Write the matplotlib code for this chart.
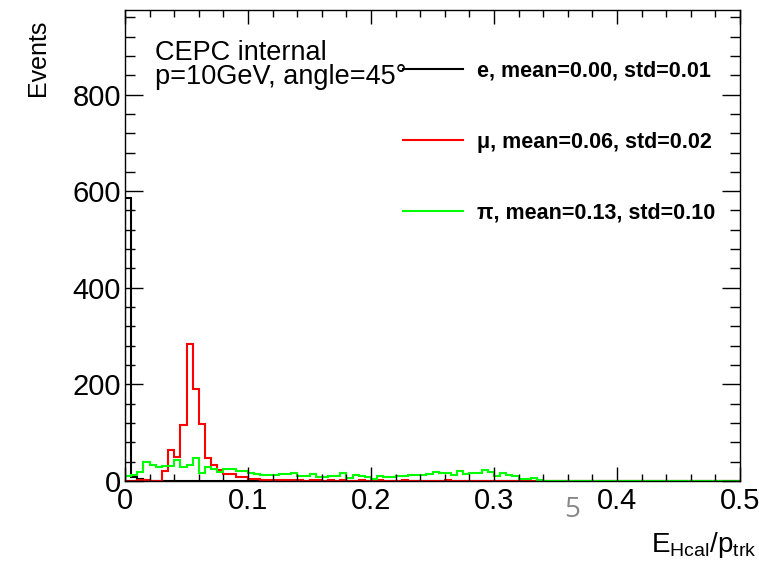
#!/usr/bin/env python
# -*- coding: utf-8 -*-

import numpy as np
import matplotlib
matplotlib.use("Agg")
import matplotlib.pyplot as plt
from matplotlib.ticker import MultipleLocator

# histogram contents, 100 bins of width 0.005 on [0, 0.5]
bin_lo, bin_hi, n_bins = 0.0, 0.5, 100

counts_e = [585, 9, 5, 2, 1, 1] + [0] * 94

counts_mu = [0, 1, 2, 2, 1, 1, 21, 64, 49, 115,
             283, 190, 117, 47, 33, 22, 14, 14, 9, 9,
             4, 4, 3, 2, 3, 2, 2, 3, 2, 1,
             2, 2, 1, 2, 1, 2, 1, 1, 2, 1,
             1, 2, 1, 1, 1, 2, 1, 1, 1, 1,
             1, 1, 2, 1, 1, 1, 1, 1, 1, 1,
             1, 1, 1, 1, 1, 1] + [0] * 34

counts_pi = [10, 13, 18, 40, 33, 30, 32, 32, 43, 30,
             33, 48, 16, 29, 24, 19, 24, 24, 20, 20,
             16, 14, 13, 13, 12, 14, 14, 17, 10, 11,
             15, 9, 9, 11, 11, 16, 7, 13, 11, 8,
             5, 11, 9, 9, 11, 11, 13, 13, 13, 14,
             19, 17, 17, 13, 21, 14, 16, 16, 23, 18,
             10, 17, 13, 10, 5, 5, 7, 2, 1] + [0] * 31

labels = ["e, mean=0.00, std=0.01",
          "\u03bc, mean=0.06, std=0.02",
          "\u03c0, mean=0.13, std=0.10"]
colors = ["black", "#ff0000", "#00ff00"]

plt.rcParams["font.family"] = ["Liberation Sans", "DejaVu Sans"]
plt.rcParams["mathtext.fontset"] = "custom"
plt.rcParams["mathtext.rm"] = "Liberation Sans"
plt.rcParams["mathtext.it"] = "Liberation Sans"

fig = plt.figure(figsize=(7.59, 5.65), dpi=100)
ax = fig.add_axes([125 / 759, 84 / 565, 615 / 759, 471 / 565])

edges = np.linspace(bin_lo, bin_hi, n_bins + 1)
for cnt, col, lab in zip([counts_e, counts_mu, counts_pi], colors, labels):
    ax.stairs(cnt, edges, color=col, lw=1.5, label=lab)

ax.set_xlim(0, 0.5)
ax.set_ylim(0, 975)

# ROOT-like ticks
ax.xaxis.set_major_locator(MultipleLocator(0.1))
ax.xaxis.set_minor_locator(MultipleLocator(0.02))
ax.yaxis.set_major_locator(MultipleLocator(200))
ax.yaxis.set_minor_locator(MultipleLocator(40))
ax.tick_params(which="both", direction="in", top=True, right=True,
               labelsize=21, width=1, color="black")
ax.tick_params(axis="x", which="major", length=10, pad=4)
ax.tick_params(axis="x", which="minor", length=5)
ax.tick_params(axis="y", which="major", length=13, pad=3)
ax.tick_params(axis="y", which="minor", length=7)
ax.xaxis.set_major_formatter(lambda v, p: "0" if v == 0 else "%g" % v)
for s in ax.spines.values():
    s.set_linewidth(1)

fig.text(38 / 759, 1 - 20 / 565, "Events", rotation=90, ha="center",
         va="top", fontsize=18)
fig.text(757 / 759, 13 / 565,
         r"E$_{\mathrm{Hcal}}$/p$_{\mathrm{trk}}$",
         ha="right", va="baseline", fontsize=20)

fig.text(155 / 759, 1 - 60 / 565, "CEPC internal", fontsize=19.5,
         ha="left", va="baseline")
fig.text(155 / 759, 1 - 84 / 565, "p=10GeV, angle=45\u00b0", fontsize=19.5,
         ha="left", va="baseline")

ax.legend(loc="upper left", bbox_to_anchor=((403 - 125) / 615, 1 - 51 / 471),
          frameon=False, handlelength=2.8, handletextpad=0.65,
          labelspacing=2.32, borderaxespad=0, borderpad=0,
          prop={"weight": "bold", "size": 15.5})

fig.text(572 / 759, 1 - 510 / 565, "5", color="#888888", fontsize=20,
         ha="center", va="center", family="Open Sans")

fig.savefig("out.png", dpi=100)
plt.close(fig)
